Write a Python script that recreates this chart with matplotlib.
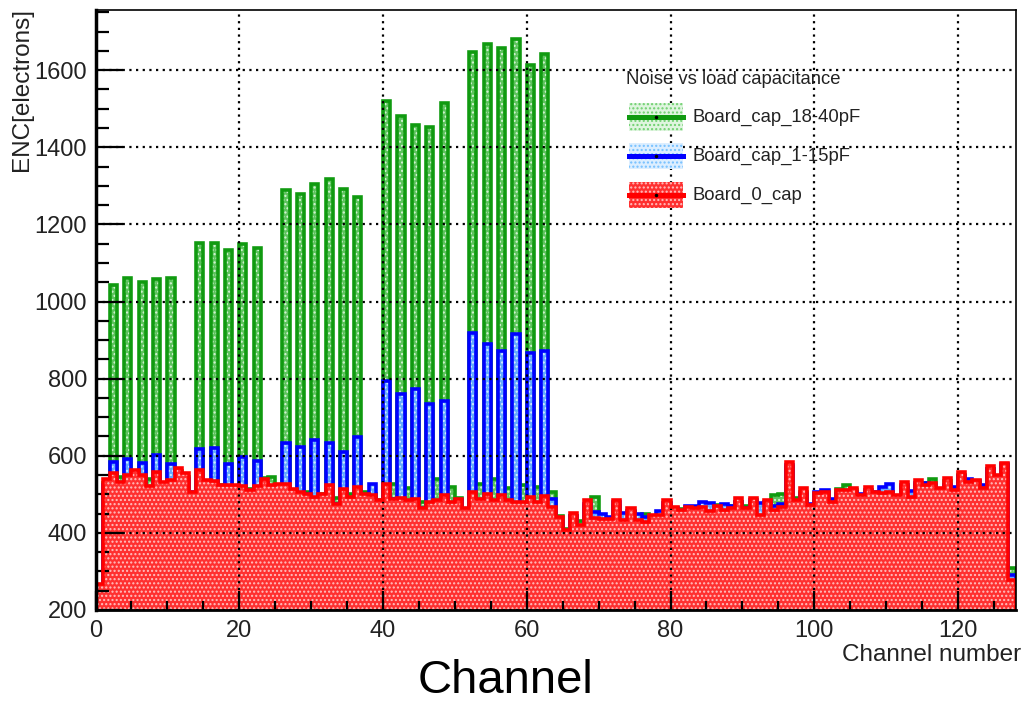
import numpy as np
import matplotlib
matplotlib.use("Agg")
import matplotlib.pyplot as plt
from matplotlib.patches import Rectangle
from matplotlib.lines import Line2D
from matplotlib.ticker import MultipleLocator

plt.rcParams['font.family'] = ['Liberation Sans', 'DejaVu Sans']
plt.rcParams['hatch.linewidth'] = 1.0

# 128 readout channels, one bin per channel
edges = np.arange(129)

# ENC per channel, board without load capacitance
enc_0cap = [
    268, 541, 554, 532, 550, 563, 550, 521, 559, 532, 537, 567, 554, 507, 563, 537,
    535, 524, 524, 524, 521, 511, 521, 541, 524, 527, 527, 515, 507, 502, 494, 502,
    524, 476, 515, 494, 520, 502, 498, 485, 528, 489, 491, 485, 489, 464, 481, 485,
    498, 481, 489, 464, 507, 489, 500, 485, 498, 485, 481, 481, 494, 481, 496, 468,
    442, 407, 451, 420, 485, 438, 436, 436, 485, 433, 464, 433, 429, 446, 446, 485,
    468, 459, 468, 464, 466, 458, 470, 460, 464, 490, 464, 490, 446, 485, 459, 468,
    584, 485, 516, 472, 503, 507, 481, 511, 511, 516, 498, 520, 507, 503, 507, 498,
    533, 494, 537, 524, 529, 516, 542, 511, 559, 533, 537, 516, 574, 550, 582, 278,
]

# ENC per channel, 1-15 pF on channels 2..62 (even)
enc_1_15pF = [
    262, 524, 584, 530, 592, 525, 582, 520, 602, 530, 578, 555, 540, 505, 618, 530,
    620, 494, 578, 520, 598, 498, 587, 530, 520, 520, 634, 510, 624, 500, 642, 495,
    632, 475, 611, 490, 648, 485, 527, 472, 794, 487, 759, 480, 773, 465, 734, 480,
    743, 478, 485, 462, 918, 485, 889, 482, 871, 470, 916, 478, 866, 478, 871, 487,
    429, 405, 445, 418, 475, 455, 450, 440, 480, 452, 458, 448, 440, 440, 458, 478,
    465, 455, 470, 470, 480, 478, 465, 475, 470, 480, 465, 485, 478, 480, 470, 475,
    575, 478, 500, 475, 505, 510, 488, 500, 505, 505, 500, 510, 505, 520, 528, 495,
    525, 508, 530, 530, 525, 512, 525, 520, 548, 540, 535, 525, 565, 548, 578, 290,
]

# ENC per channel, 18-40 pF on channels 2..62 (even)
enc_18_40pF = [
    265, 530, 1042, 545, 1062, 550, 1050, 540, 1058, 530, 1060, 560, 545, 500, 1152, 535,
    1151, 525, 1133, 520, 1148, 515, 1138, 542, 546, 480, 1289, 510, 1278, 505, 1306, 500,
    1319, 490, 1291, 500, 1271, 505, 500, 485, 1520, 528, 1481, 517, 1458, 480, 1453, 539,
    1514, 520, 490, 460, 1646, 528, 1669, 539, 1658, 517, 1681, 524, 1614, 520, 1643, 507,
    445, 410, 445, 430, 470, 494, 440, 430, 470, 425, 455, 440, 450, 440, 438, 470,
    455, 462, 460, 460, 468, 458, 472, 465, 470, 480, 470, 480, 455, 470, 498, 500,
    570, 490, 505, 470, 500, 505, 470, 515, 524, 510, 495, 505, 500, 495, 505, 495,
    520, 505, 525, 530, 540, 510, 535, 505, 550, 530, 530, 520, 565, 540, 575, 308,
]

labels = ['Board_cap_18-40pF', 'Board_cap_1-15pF', 'Board_0_cap']
line_colors = ['#109a10', '#0000ff', '#ff0000']
fill_colors = ['#5cc45c', '#62aaff', '#ff3030']
hatch_colors = ['#d8f5d8', '#d8ecff', '#ffc0c0']

PX = 0.72  # points per pixel at 100 dpi

fig = plt.figure(figsize=(10.23, 7.04), dpi=100)
ax = fig.add_axes([95.5 / 1023, 94 / 704, 920 / 1023, 600 / 704])

all_series = [enc_18_40pF, enc_1_15pF, enc_0cap]
for i, vals in enumerate(all_series):
    z = 1 + 2 * i
    ax.stairs(vals, edges, baseline=0, fill=True, facecolor=fill_colors[i],
              edgecolor=hatch_colors[i], hatch='....', linewidth=0, zorder=z)
    ax.stairs(vals, edges, baseline=0, color=line_colors[i],
              linewidth=3.6 * PX, zorder=z + 1 if i < 2 else 7)

ax.set_xlim(0, 128)
ax.set_ylim(200, 1756)

ax.xaxis.set_major_locator(MultipleLocator(20))
ax.xaxis.set_minor_locator(MultipleLocator(5))
ax.yaxis.set_major_locator(MultipleLocator(200))
ax.yaxis.set_minor_locator(MultipleLocator(50))

ax.grid(True, which='major', color='black', linestyle=(0, (1, 2)), linewidth=1.6)
ax.xaxis.set_zorder(6)
ax.yaxis.set_zorder(6)

ax.tick_params(axis='both', which='both', direction='in', top=False, right=False,
               colors='black', labelcolor='#222222', labelsize=17)
ax.tick_params(axis='y', which='major', length=27 * PX, width=1.6, pad=6)
ax.tick_params(axis='y', which='minor', length=13 * PX, width=1.6)
ax.tick_params(axis='x', which='major', length=19 * PX, width=1.6, pad=7)
ax.tick_params(axis='x', which='minor', length=9 * PX, width=1.6)

for side in ['top', 'right']:
    ax.spines[side].set_linewidth(1.2)
ax.spines['left'].set_linewidth(2.5)
ax.spines['bottom'].set_linewidth(2.0)
for sp in ax.spines.values():
    sp.set_zorder(8)


def fx(x):
    return x / 1023


def fy(y):
    return 1 - y / 704


fig.text(fx(22), fy(8), 'ENC[electrons]', rotation=90, ha='center', va='top',
         fontsize=17.5, color='#222222')
fig.text(fx(1021), fy(655), 'Channel number', ha='right', va='center',
         fontsize=17.5, color='#222222')
fig.text(fx(505), fy(681), 'Channel', ha='center', va='center', fontsize=34,
         color='black')

# legend drawn by hand, ROOT style without border
fig.text(fx(626), fy(80), 'Noise vs load capacitance', ha='left', va='center',
         fontsize=13.3, color='#222222')
legend_rows = [(103, 131), (143, 169), (182, 208)]
for i, (y0, y1) in enumerate(legend_rows):
    sym_face = ['#dff5df', '#dceeff', '#ff3030'][i]
    sym_hatch = ['#6fd06f', '#74c0ff', '#ffc0c0'][i]
    fig.add_artist(Rectangle((fx(629), fy(y1)), fx(683) - fx(629), fy(y0) - fy(y1),
                             transform=fig.transFigure, facecolor=sym_face,
                             edgecolor=sym_hatch, hatch='....', linewidth=0))
    ym = fy((y0 + y1) / 2)
    fig.add_artist(Line2D([fx(629), fx(683)], [ym, ym], transform=fig.transFigure,
                          color=line_colors[i], linewidth=5 * PX))
    fig.add_artist(Line2D([fx(656)], [ym], transform=fig.transFigure, marker='o',
                          markersize=1.5, color='black'))
    fig.text(fx(693), ym, labels[i], ha='left', va='center', fontsize=13.3,
             color='#222222')

fig.savefig('out.png', dpi=100)
